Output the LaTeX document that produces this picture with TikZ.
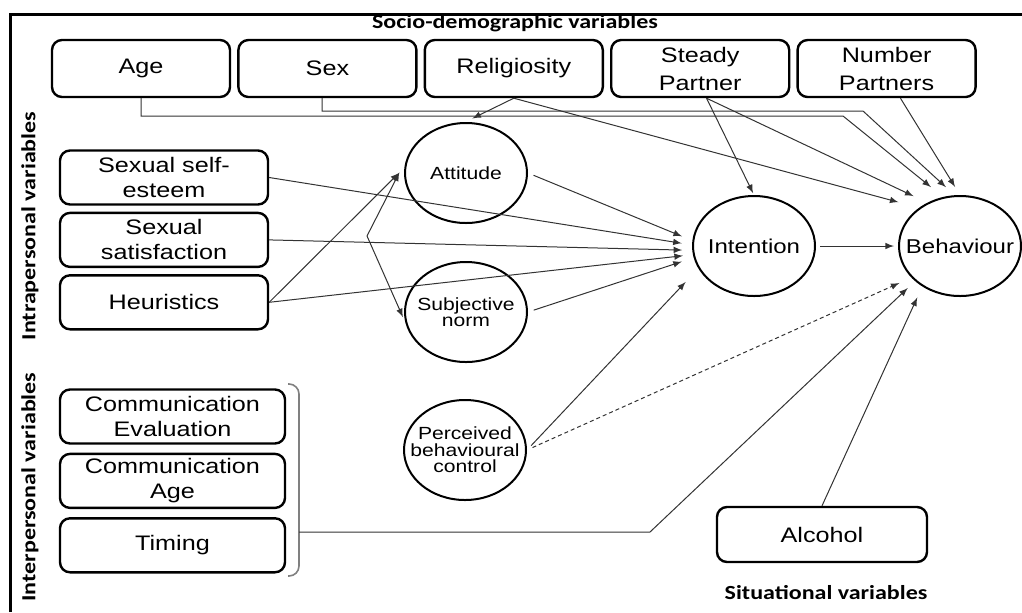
\documentclass[tikz,border=0pt]{standalone}
\usepackage{fontspec}
\setmainfont{Liberation Sans}[FakeStretch=1.2]
\newfontfamily\groupfont{Carlito}[FakeStretch=1.2]
\usepackage{tikz}
\usetikzlibrary{arrows,shapes,positioning}

\begin{document}
\begin{tikzpicture}[x=0.5pt,y=-0.5pt]
		\tikzstyle{varbox}=[draw=black, line width=1.2pt, rounded corners=5pt, minimum width=89pt, minimum height=28.5pt, inner sep=1pt, align=center, font=\fontsize{10.5}{14}\selectfont]
		\tikzstyle{varbox_intra}=[varbox, minimum width=104pt, minimum height=27pt, font=\fontsize{10.5}{12.5}\selectfont]
		\tikzstyle{varbox_inter}=[varbox_intra, minimum width=112.5pt]
		\tikzstyle{model_ell}=[ellipse, draw=black, line width=1pt, minimum width=61pt, minimum height=50pt, inner sep=0pt]
		\tikzstyle{model_text}=[align=center, font=\fontsize{8.8}{8.2}\selectfont]
		\tikzstyle{model_text_big}=[model_text, font=\fontsize{10}{12}\selectfont]
		\tikzstyle{group_text}=[font=\groupfont\bfseries\fontsize{10}{12}\selectfont]
		\tikzstyle{link_arrow}=[draw=black!80, line width=0.5pt, -latex]

		\useasboundingbox (0,0) rectangle (1022,612);
		\draw[line width=1.5pt] (10,612) -- (10,14) -- (1022,14);

		% socio-demographic row
		\node [group_text] (socio) at (515,23) {Socio-demographic variables};
		\node [varbox] (age) at (141,68.5) {Age};
		\node [varbox] (sex) [right=3pt of age] {Sex};
		\node [varbox] (rel) [right=3pt of sex] {Religiosity};
		\node [varbox] (steady) [right=3pt of rel] {Steady\\Partner};
		\node [varbox] (number) [right=3pt of steady] {Number\\Partners};

		% intrapersonal
		\node [group_text, rotate=90] (intra) at (30,226) {Intrapersonal variables};
		\node [varbox_intra] (sse) at (164,177.5) {Sexual self-\\esteem};
		\node [varbox_intra] (sat) [below=3pt of sse] {Sexual\\satisfaction};
		\node [varbox_intra] (heur) [below=3pt of sat] {Heuristics};

		% interpersonal
		\node [group_text, rotate=90] (inter) at (30,487) {Interpersonal variables};
		\node [varbox_inter] (ceval) at (172.5,416.5) {Communication\\Evaluation};
		\node [varbox_inter] (cage) [below=4pt of ceval] {Communication\\Age};
		\node [varbox_inter] (timing) [below=4pt of cage] {Timing};
		\draw[gray, line width=0.8pt, rounded corners=5pt] (288,384) -| (299,480) |- (288,576);

		% situational
		\node [varbox, minimum width=105pt, minimum height=27.5pt] (alcohol) at (822,534.5) {Alcohol};
		\node [group_text] (situ) at (826,593) {Situational variables};

		% model
		\node [model_ell] (att) at (466,173) {};
		\node at (att) [model_text] {Attitude};
		\node [model_ell] (sn) at (466,312) {};
		\node at (sn) [model_text] {Subjective\\norm};
		\node [model_ell] (pbc) at (465,450) {};
		\node at (pbc) [model_text] {Perceived\\behavioural\\control};
		\node [model_ell] (int) at (754,246) {};
		\node at (int) [model_text_big] {Intention};
		\node [model_ell] (beh) [right=41pt of int] {};
		\node at (beh) [model_text_big] {Behaviour};

		\coordinate (agebar) at (843,116);
		\coordinate (sexbar) at (863,111);
		\coordinate (fork) at (367,236);
		\coordinate (brace) at (299,532);
		\coordinate (tknee) at (650,532);

		\draw[link_arrow, shorten >=7.8pt] (age.south) |- (agebar) -- (beh.109.5);
		\draw[link_arrow, shorten >=5.9pt] (sex.-100) |- (sexbar) -- (beh.96.3);
		\draw[link_arrow, shorten >=4pt] (rel.south) -- (att.91);
		\draw[link_arrow, shorten >=10.6pt] (rel.south) -- (beh.137.4);
		\draw[link_arrow, shorten >=1pt] (steady.-78) -- (int.north);
		\draw[link_arrow, shorten >=7.6pt] (steady.-78) -- (beh.127.2);
		\draw[link_arrow, shorten >=4.7pt] (number.-65) -- (beh.north);

		\draw[link_arrow, shorten >=3.7pt] (heur.east) -- (att.175.1);
		\draw[link_arrow, shorten >=8pt] (fork) -- (att.166.4);
		\draw[link_arrow, shorten >=3pt] (fork) -- (sn.190);

		\draw[link_arrow, shorten <=3pt, shorten >=5.6pt] (att.east) -- (int.175.8);
		\draw[link_arrow, shorten >=5.2pt] (sse.east) -- (int.179);
		\draw[link_arrow, shorten >=5pt] (sat.east) -- (int.184);
		\draw[link_arrow, shorten >=5pt] (heur.east) -- (int.188.4);
		\draw[link_arrow, shorten <=3pt, shorten >=6.2pt] (sn.east) -- (int.191.5);
		\draw[link_arrow, shorten <=3pt, shorten >=9.2pt] (pbc.east) -- (int.202.6);
		\draw[link_arrow, shorten <=2pt, shorten >=2pt] (int) -- (beh);

		\draw[link_arrow, dash pattern=on 2pt off 1.5pt, shorten <=3pt, shorten >=6.5pt] (pbc.east) -- (beh.213.9);
		\draw[link_arrow, shorten >=5pt] (brace) -- (tknee) -- (beh.218.8);
		\draw[link_arrow, shorten >=6pt] (alcohol.north) -- (beh.227.4);

	\end{tikzpicture}
\end{document}
